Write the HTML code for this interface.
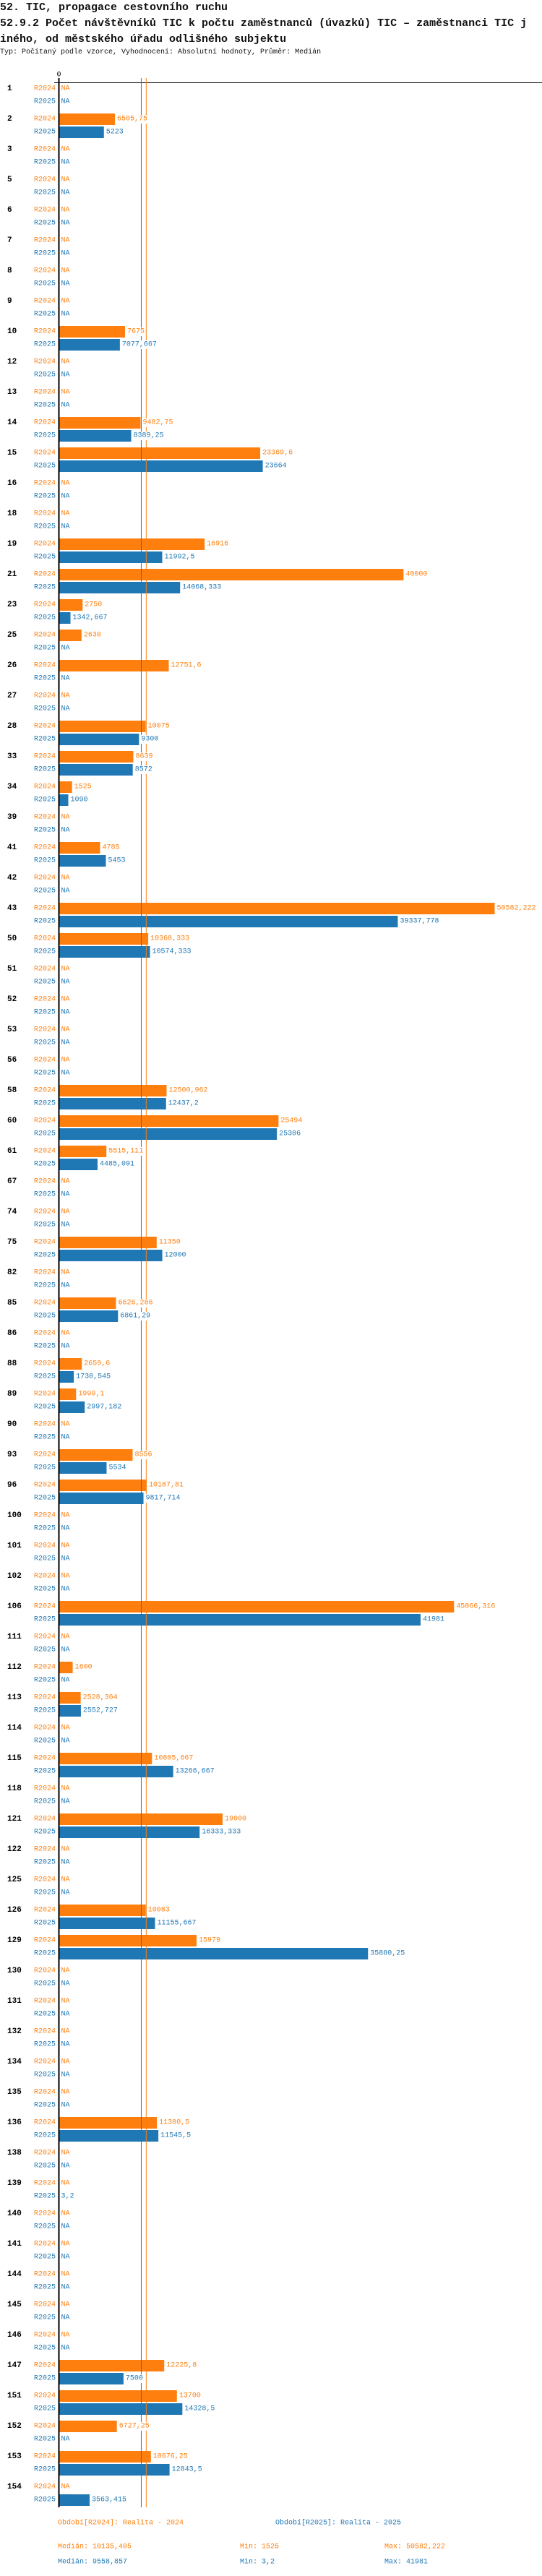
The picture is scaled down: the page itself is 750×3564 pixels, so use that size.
<!DOCTYPE html>
<html><head><meta charset="utf-8">
<style>
html,body{margin:0;padding:0;background:#fff;}
body{width:750px;height:3564px;overflow:hidden;position:relative;font-family:"Liberation Mono",monospace;}
.t{position:absolute;left:0;white-space:nowrap;color:#111;}
svg{position:absolute;left:0;top:0;}
</style></head>
<body>
<div class="t" style="top:0px;font-size:15px;font-weight:bold;line-height:22px;">52. TIC, propagace cestovního ruchu</div>
<div class="t" style="top:22px;font-size:15px;font-weight:bold;line-height:22px;">52.9.2 Počet návštěvníků TIC k počtu zaměstnanců (úvazků) TIC – zaměstnanci TIC j</div>
<div class="t" style="top:44px;font-size:15px;font-weight:bold;line-height:22px;">iného, od městského úřadu odlišného subjektu</div>
<div class="t" style="top:66px;font-size:10px;line-height:14px;">Typ: Počítaný podle vzorce, Vyhodnocení: Absolutní hodnoty, Průměr: Medián</div>
<svg id="chart" width="750" height="3564"></svg>
<script>
const categories=[1,2,3,5,6,7,8,9,10,12,13,14,15,16,18,19,21,23,25,26,27,28,33,34,39,41,42,43,50,51,52,53,56,58,60,61,67,74,75,82,85,86,88,89,90,93,96,100,101,102,106,111,112,113,114,115,118,121,122,125,126,129,130,131,132,134,135,136,138,139,140,141,144,145,146,147,151,152,153,154];
const values2024=[null,6505.75,null,null,null,null,null,null,7675,null,null,9482.75,23369.6,null,null,16916,40000,2750,2630,12751.6,null,10075,8639,1525,null,4785,null,50582.222,10368.333,null,null,null,null,12500.962,25494,5515.111,null,null,11350,null,6626.286,null,2659.6,1999.1,null,8556,10187.81,null,null,null,45866.316,null,1600,2528.364,null,10805.667,null,19000,null,null,10083,15979,null,null,null,null,null,11380.5,null,null,null,null,null,null,null,12225.8,13700,6727.25,10676.25,null];
const values2025=[null,5223,null,null,null,null,null,null,7077.667,null,null,8389.25,23664,null,null,11992.5,14068.333,1342.667,null,null,null,9300,8572,1090,null,5453,null,39337.778,10574.333,null,null,null,null,12437.2,25306,4485.091,null,null,12000,null,6861.29,null,1730.545,2997.182,null,5534,9817.714,null,null,null,41981,null,null,2552.727,null,13266.667,null,16333.333,null,null,11155.667,35880.25,null,null,null,null,null,11545.5,null,3.2,null,null,null,null,null,7500,14328.5,null,12843.5,3563.415];
const seriesNames=["R2024","R2025"];
const medians=[10135.405,9558.857];
const colors=["#ff7f0e","#1f77b4"];
const NS="http://www.w3.org/2000/svg";
const svg=document.getElementById('chart');
const X0=81.5, SCALE=603/50582.222;
function xs(v){return X0+v*SCALE;}
function ys(i){return 123+i*42;}
function fmt(v){return String(v).replace('.',',');}
function mk(tag,attrs,parent){const e=document.createElementNS(NS,tag);for(const k in attrs)e.setAttribute(k,attrs[k]);(parent||svg).appendChild(e);return e;}
function txt(x,y,s,attrs){const e=mk('text',Object.assign({x:x,y:y,'font-family':'Liberation Mono, monospace','font-size':10,'dominant-baseline':'central'},attrs||{}));e.textContent=s;return e;}
const lastY=ys(categories.length-1)+28;
const ax=mk('line',{x1:75,y1:114.5,x2:750,y2:114.5,stroke:'#000','stroke-width':1});


const zl=txt(X0,104,'0',{'text-anchor':'middle',fill:'#000'});


const vals=[values2024,values2025];
const labelsLayer=[];
categories.forEach((c,i)=>{
  const cy=ys(i);
  const gl=txt(10,cy,String(c),{'font-weight':'bold','font-size':11,fill:'#000'});
  
  
  for(let s=0;s<2;s++){
    const yy=cy+s*18;
    const sl=txt(77,yy,seriesNames[s],{'text-anchor':'end',fill:colors[s]});
    
    
    const v=vals[s][i];
    if(v===null){
      labelsLayer.push({x:X0+3,y:yy,s:'NA',c:colors[s],bg:false,name:'na-label-'+seriesNames[s].toLowerCase()+'-'+c});
    } else {
      const b=mk('rect',{x:X0,y:yy-8,width:Math.max(0,xs(v)-X0),height:16,fill:colors[s]});
      
      
      labelsLayer.push({x:xs(v)+3,y:yy,s:fmt(v),c:colors[s],bg:true,name:'value-label-'+seriesNames[s].toLowerCase()+'-'+c});
    }
  }
});
medians.forEach((m,s)=>{
  const l=mk('line',{x1:xs(m),y1:108,x2:xs(m),y2:lastY,stroke:colors[s],'stroke-width':1});
  
  
});
labelsLayer.forEach(o=>{
  if(o.bg){
    const r=mk('rect',{x:o.x-1,y:o.y-6,width:o.s.length*6+2,height:12,fill:'#fff'});
    
    
  }
  const t=txt(o.x,o.y,o.s,{fill:o.c});
  
  
});
const za=mk('line',{x1:X0,y1:108,x2:X0,y2:lastY,stroke:'#000','stroke-width':2});


const foot=[
 [80,3491,'Období[R2024]: Realita - 2024',0,'legend-entry-r2024'],
 [381,3491,'Období[R2025]: Realita - 2025',1,'legend-entry-r2025'],
 [80,3524,'Medián: 10135,405',0,'median-r2024'],
 [332,3524,'Min: 1525',0,'min-r2024'],
 [532,3524,'Max: 50582,222',0,'max-r2024'],
 [80,3545,'Medián: 9558,857',1,'median-r2025'],
 [332,3545,'Min: 3,2',1,'min-r2025'],
 [532,3545,'Max: 41981',1,'max-r2025']
];
foot.forEach(f=>{
  const t=txt(f[0],f[1],f[2],{fill:colors[f[3]]});
  
  
});
</script>
</body></html>
